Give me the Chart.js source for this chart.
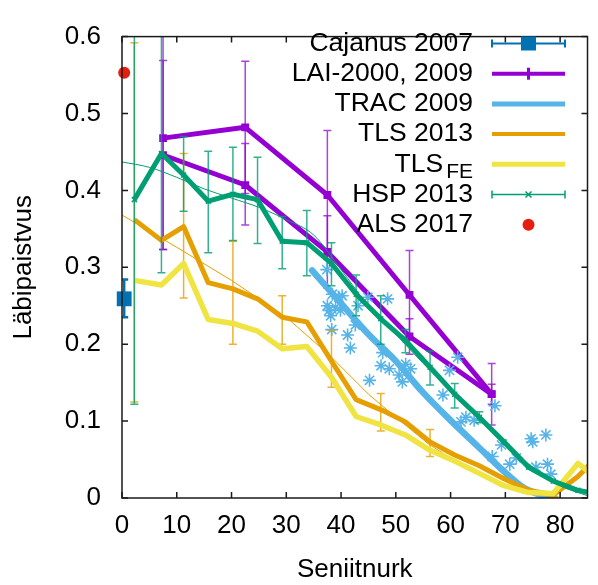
<!DOCTYPE html>
<html>
<head>
<meta charset="utf-8">
<title>Läbipaistvus</title>
<script src="https://cdn.jsdelivr.net/npm/chart.js@4.4.1/dist/chart.umd.min.js"></script>
<style>
    html, body { margin: 0; padding: 0; background: #fff; }
    #wrap { width: 598px; height: 585px; position: relative; }
</style>
</head>
<body>
<div id="wrap"><canvas id="chart"></canvas></div>
<script>
// Axis ticks
const xTicks = [0, 10, 20, 30, 40, 50, 60, 70, 80];
const yTicks = [0, 0.1, 0.2, 0.3, 0.4, 0.5, 0.6];

// Cajanus 2007
const cajanusX = [0.4];
const cajanusY = [0.259];
const cajanusLow = [0.235];
const cajanusHigh = [0.284];

// LAI-2000, 2009 (two measurement runs)
const laiX = [7.5, 22.5, 37.5, 52.5, 67.5];
const laiUpperY = [0.468, 0.482, 0.394, 0.264, 0.135];
const laiUpperLow = [0.323, 0.396, 0.31, 0.206, 0.095];
const laiUpperHigh = [0.613, 0.568, 0.478, 0.322, 0.175];
const laiLowerY = [0.446, 0.407, 0.32, 0.21, 0.135];
const laiLowerLow = [0.323, 0.355, 0.273, 0.187, 0.122];
const laiLowerHigh = [0.569, 0.461, 0.367, 0.233, 0.148];

// TRAC 2009 curve and single measurements
const tracLineX = [34.7, 40, 45, 50, 55, 60, 65, 70, 73, 76, 79];
const tracLineY = [0.296, 0.253, 0.213, 0.178, 0.137, 0.101, 0.067, 0.033, 0.015, 0.005, 0];
const tracPtsX = [37.4, 38.4, 39.6, 37.5, 39.0, 39.9, 38.1, 37.8, 38.3, 40.2, 41.7, 44.9, 48.5, 45.2, 47.3,
    48.8, 50.6, 51.2, 47.6, 51.8, 52.7, 58.6, 59.8, 61.3, 61.9, 62.8, 64.3, 68.1, 69.3, 67.6,
    70.8, 72.0, 74.7, 75.0, 77.4, 75.6, 77.7, 78.3, 43.1, 42.6, 41.2];
const tracPtsY = [0.297, 0.265, 0.261, 0.25, 0.248, 0.244, 0.237, 0.244, 0.219, 0.263, 0.195, 0.261, 0.259, 0.153, 0.172,
    0.168, 0.16, 0.151, 0.189, 0.174, 0.168, 0.134, 0.166, 0.183, 0.099, 0.105, 0.101, 0.12, 0.069, 0.054,
    0.044, 0.052, 0.077, 0.073, 0.082, 0.04, 0.044, 0.031, 0.25, 0.225, 0.212];

// Zenith angle bins shared by TLS and HSP
const binX = [2.25, 7.2, 11.25, 15.75, 20.25, 24.75, 29.25, 33.75, 38.25, 42.75,
    47.25, 51.75, 56.25, 60.75, 65.25, 69.75, 74.25, 78.75, 83.25, 87.75];

// TLS 2013
const tlsY = [0.362, 0.335, 0.353, 0.28, 0.272, 0.259, 0.235, 0.229, 0.178, 0.128,
    0.115, 0.099, 0.073, 0.056, 0.042, 0.025, 0.01, 0.004, 0.028, 0.06];
const tlsErrX = [2.25, 11.25, 20.25, 29.25, 38.25, 47.25, 56.25];
const tlsErrLow = [0.125, 0.26, 0.2, 0.2, 0.144, 0.087, 0.054];
const tlsErrHigh = [0.592, 0.448, 0.334, 0.263, 0.218, 0.136, 0.089];
const tlsFitX = [0, 10, 20, 30, 38, 45, 50, 56, 60, 66, 72, 76, 80];
const tlsFitY = [0.368, 0.326, 0.283, 0.235, 0.185, 0.135, 0.105, 0.07, 0.052, 0.028, 0.01, 0.004, 0.001];

// TLS FE
const tlsFeY = [0.283, 0.277, 0.305, 0.232, 0.227, 0.217, 0.194, 0.197, 0.157, 0.106,
    0.095, 0.082, 0.062, 0.048, 0.032, 0.016, 0.007, 0.006, 0.045, 0.02];

// HSP 2013
const hspY = [0.388, 0.448, 0.42, 0.386, 0.395, 0.388, 0.334, 0.332, 0.305, 0.265,
    0.233, 0.205, 0.17, 0.135, 0.105, 0.073, 0.04, 0.022, 0.01, 0.004];
const hspErrX = binX.slice(0, 15);
const hspErrLow = [0.122, 0.293, 0.373, 0.319, 0.335, 0.331, 0.298, 0.289, 0.276, 0.237, 0.2, 0.189, 0.147, 0.117, 0.098];
const hspErrHigh = [0.654, 0.603, 0.47, 0.451, 0.456, 0.443, 0.366, 0.374, 0.332, 0.29, 0.263, 0.219, 0.191, 0.149, 0.112];
const hspFitX = [0, 5, 10, 15, 20, 25, 30, 35, 40, 45, 50, 55, 60, 65, 70, 75, 80, 85];
const hspFitY = [0.437, 0.43, 0.417, 0.402, 0.39, 0.378, 0.362, 0.342, 0.297, 0.25, 0.213, 0.175, 0.14, 0.105, 0.07, 0.04, 0.016, 0.003];

// ALS 2017
const alsX = [0.4];
const alsY = [0.553];

// gnuplot default colours
const colors = {
    blue: '#0072B2',
    purple: '#9400D3',
    skyblue: '#56B4E9',
    orange: '#E69F00',
    yellow: '#F0E442',
    green: '#009E73',
    red: '#E51E10'
};

const FONT = '"Liberation Sans", Arial, sans-serif';
Chart.defaults.font.family = FONT;
Chart.defaults.color = '#000';

function pts(xs, ys) {
    return xs.map((x, i) => ({ x: x, y: ys[i] }));
}

// Datasets listed bottom to top
const datasets = [
    {
        label: 'Cajanus 2007', data: pts(cajanusX, cajanusY), showLine: false,
        pointStyle: 'rect', pointRadius: 10.5, backgroundColor: colors.blue, borderColor: colors.blue, borderWidth: 0,
        errX: cajanusX, errLow: cajanusLow, errHigh: cajanusHigh, errColor: colors.blue, errWidth: 2.5, clip: false
    },
    {
        label: 'LAI-2000 a', data: pts(laiX, laiUpperY), showLine: true,
        borderColor: colors.purple, backgroundColor: colors.purple, borderWidth: 5,
        pointStyle: 'rect', pointRadius: 5.5, pointBorderWidth: 0,
        errX: laiX, errLow: laiUpperLow, errHigh: laiUpperHigh, errColor: 'rgba(148,0,211,0.75)', errWidth: 1.5
    },
    {
        label: 'LAI-2000 b', data: pts(laiX, laiLowerY), showLine: true,
        borderColor: colors.purple, backgroundColor: colors.purple, borderWidth: 5,
        pointStyle: 'rect', pointRadius: 5.5, pointBorderWidth: 0,
        errX: laiX, errLow: laiLowerLow, errHigh: laiLowerHigh, errColor: 'rgba(148,0,211,0.75)', errWidth: 1.5
    },
    {
        label: 'TRAC line', data: pts(tracLineX, tracLineY), showLine: true,
        borderColor: colors.skyblue, borderWidth: 6.5, pointRadius: 0, borderCapStyle: 'round', cubicInterpolationMode: 'monotone'
    },
    {
        label: 'TRAC points', data: pts(tracPtsX, tracPtsY), showLine: false,
        pointStyle: 'star', pointRadius: 6.5, borderColor: colors.skyblue, pointBorderWidth: 1.6
    },
    {
        label: 'TLS 2013', data: pts(binX, tlsY), showLine: true,
        borderColor: colors.orange, borderWidth: 5, pointRadius: 0,
        errX: tlsErrX, errLow: tlsErrLow, errHigh: tlsErrHigh, errColor: 'rgba(230,159,0,0.8)', errWidth: 1.5
    },
    {
        label: 'TLS fit', data: pts(tlsFitX, tlsFitY), showLine: true,
        borderColor: colors.orange, borderWidth: 1, pointRadius: 0
    },
    {
        label: 'TLS FE', data: pts(binX, tlsFeY), showLine: true,
        borderColor: colors.yellow, borderWidth: 5.5, pointRadius: 0
    },
    {
        label: 'HSP 2013', data: pts(binX, hspY), showLine: true,
        borderColor: colors.green, backgroundColor: colors.green, borderWidth: 5,
        pointStyle: 'crossRot', pointRadius: 3.5, pointBorderWidth: 1.5,
        errX: hspErrX, errLow: hspErrLow, errHigh: hspErrHigh, errColor: 'rgba(0,158,115,0.8)', errWidth: 1.5
    },
    {
        label: 'HSP fit', data: pts(hspFitX, hspFitY), showLine: true,
        borderColor: colors.green, borderWidth: 1, pointRadius: 0, cubicInterpolationMode: 'monotone'
    },
    {
        label: 'ALS 2017', data: pts(alsX, alsY), showLine: false,
        pointStyle: 'circle', pointRadius: 6, backgroundColor: colors.red, borderColor: colors.red, borderWidth: 0, clip: false
    }
];
datasets.forEach((d, i) => {
    d.order = datasets.length - i;
    d.borderJoinStyle = 'round';
});

// Error bars, drawn under each dataset's own line
function drawErrorBars(chart, ds) {
    const xs = chart.scales.x;
    const ys = chart.scales.y;
    const area = chart.chartArea;
    const ctx = chart.ctx;
    ctx.save();
    ctx.beginPath();
    ctx.rect(area.left, area.top, area.right - area.left, area.bottom - area.top);
    ctx.clip();
    ctx.strokeStyle = ds.errColor;
    ctx.lineWidth = ds.errWidth;
    ds.errX.forEach((x, i) => {
        const px = xs.getPixelForValue(x);
        const lo = ys.getPixelForValue(ds.errLow[i]);
        const hi = ys.getPixelForValue(ds.errHigh[i]);
        ctx.beginPath();
        ctx.moveTo(px, lo); ctx.lineTo(px, hi);
        ctx.moveTo(px - 4, lo); ctx.lineTo(px + 4, lo);
        ctx.moveTo(px - 4, hi); ctx.lineTo(px + 4, hi);
        ctx.stroke();
    });
    ctx.restore();
}

// Legend entries in the upper right corner
const legendLabels = ['Cajanus 2007', 'LAI-2000, 2009', 'TRAC 2009', 'TLS 2013', 'TLS', 'HSP 2013', 'ALS 2017'];

function drawLegend(ctx) {
    const textRight = 473;
    const x1 = 492, x2 = 565, xm = 528.5;
    const y0 = 43.5, dy = 30.2;
    ctx.save();
    ctx.fillStyle = '#000';
    ctx.textBaseline = 'middle';
    ctx.textAlign = 'right';
    legendLabels.forEach((label, i) => {
        const y = y0 + dy * i;
        if (i === 4) {
            ctx.font = '21px ' + FONT;
            const feW = ctx.measureText('FE').width;
            ctx.textAlign = 'left';
            ctx.fillText('FE', textRight - feW, y + 8);
            ctx.textAlign = 'right';
            ctx.font = '26.5px ' + FONT;
            ctx.fillText(label, textRight - feW - 3, y);
        } else {
            ctx.font = '26.5px ' + FONT;
            ctx.fillText(label, textRight, y);
        }
    });

    function seg(y, color, w) {
        ctx.strokeStyle = color;
        ctx.lineWidth = w;
        ctx.beginPath();
        ctx.moveTo(x1, y); ctx.lineTo(x2, y);
        ctx.stroke();
    }
    function caps(y, color, w) {
        ctx.strokeStyle = color;
        ctx.lineWidth = w;
        ctx.beginPath();
        ctx.moveTo(x1, y - 4); ctx.lineTo(x1, y + 4);
        ctx.moveTo(x2, y - 4); ctx.lineTo(x2, y + 4);
        ctx.stroke();
    }
    let y = y0;
    seg(y, colors.blue, 2); caps(y, colors.blue, 2);
    ctx.fillStyle = colors.blue;
    ctx.fillRect(xm - 7.5, y - 7, 15, 14);
    y += dy;
    seg(y, colors.purple, 4);
    ctx.fillStyle = colors.purple;
    ctx.fillRect(xm - 1.5, y - 6, 3, 12);
    y += dy;
    seg(y, colors.skyblue, 5);
    y += dy;
    seg(y, colors.orange, 4);
    y += dy;
    seg(y, colors.yellow, 5);
    y += dy;
    seg(y, colors.green, 1.5); caps(y, colors.green, 1.5);
    ctx.strokeStyle = colors.green;
    ctx.beginPath();
    ctx.moveTo(xm - 3, y - 3); ctx.lineTo(xm + 3, y + 3);
    ctx.moveTo(xm - 3, y + 3); ctx.lineTo(xm + 3, y - 3);
    ctx.stroke();
    y += dy;
    ctx.fillStyle = colors.red;
    ctx.beginPath();
    ctx.arc(xm, y, 6, 0, Math.PI * 2);
    ctx.fill();
    ctx.restore();
}

// Frame with inward ticks on all four sides
function drawFrame(chart) {
    const ctx = chart.ctx;
    const a = chart.chartArea;
    const xs = chart.scales.x;
    const ys = chart.scales.y;
    const len = 6;
    ctx.save();
    ctx.strokeStyle = '#1a1a1a';
    ctx.lineWidth = 1.5;
    ctx.strokeRect(a.left, a.top, a.right - a.left, a.bottom - a.top);
    ctx.beginPath();
    xTicks.forEach(v => {
        const px = xs.getPixelForValue(v);
        ctx.moveTo(px, a.bottom); ctx.lineTo(px, a.bottom - len);
        ctx.moveTo(px, a.top); ctx.lineTo(px, a.top + len);
    });
    yTicks.forEach(v => {
        const py = ys.getPixelForValue(v);
        ctx.moveTo(a.left, py); ctx.lineTo(a.left + len, py);
        ctx.moveTo(a.right, py); ctx.lineTo(a.right - len, py);
    });
    ctx.stroke();
    ctx.restore();
}

const gnuplotLook = {
    id: 'gnuplotLook',
    beforeDatasetDraw(chart, args) {
        const ds = chart.data.datasets[args.index];
        if (ds.errX) drawErrorBars(chart, ds);
    },
    afterDraw(chart) {
        drawFrame(chart);
        drawLegend(chart.ctx);
    }
};

const ctx = document.getElementById('chart').getContext('2d');
new Chart(ctx, {
    type: 'scatter',
    data: { datasets: datasets },
    options: {
        responsive: true,
        maintainAspectRatio: false,
        animation: false,
        devicePixelRatio: 1,
        layout: { padding: { top: 23, right: 2, left: 0, bottom: 0 } },
        plugins: {
            legend: { display: false },
            tooltip: { enabled: false }
        },
        scales: {
            x: {
                type: 'linear',
                min: 0,
                max: 85,
                afterBuildTicks: scale => { scale.ticks = xTicks.map(v => ({ value: v })); },
                afterFit: scale => { scale.height = 87; },
                grid: { display: false, drawTicks: false },
                border: { display: false },
                ticks: { font: { size: 26 }, padding: 12, maxRotation: 0, callback: v => String(v) },
                title: { display: true, text: 'Seniitnurk', font: { size: 26 }, padding: { top: 0, bottom: 0 } }
            },
            y: {
                type: 'linear',
                min: 0,
                max: 0.6,
                afterBuildTicks: scale => { scale.ticks = yTicks.map(v => ({ value: v })); },
                afterFit: scale => { scale.width = 122; },
                grid: { display: false, drawTicks: false },
                border: { display: false },
                ticks: { font: { size: 26 }, padding: 21, callback: v => String(v) },
                title: { display: true, text: 'Läbipaistvus', font: { size: 26 }, padding: { top: 8, bottom: 0 } }
            }
        }
    },
    plugins: [gnuplotLook]
});
</script>
</body>
</html>
